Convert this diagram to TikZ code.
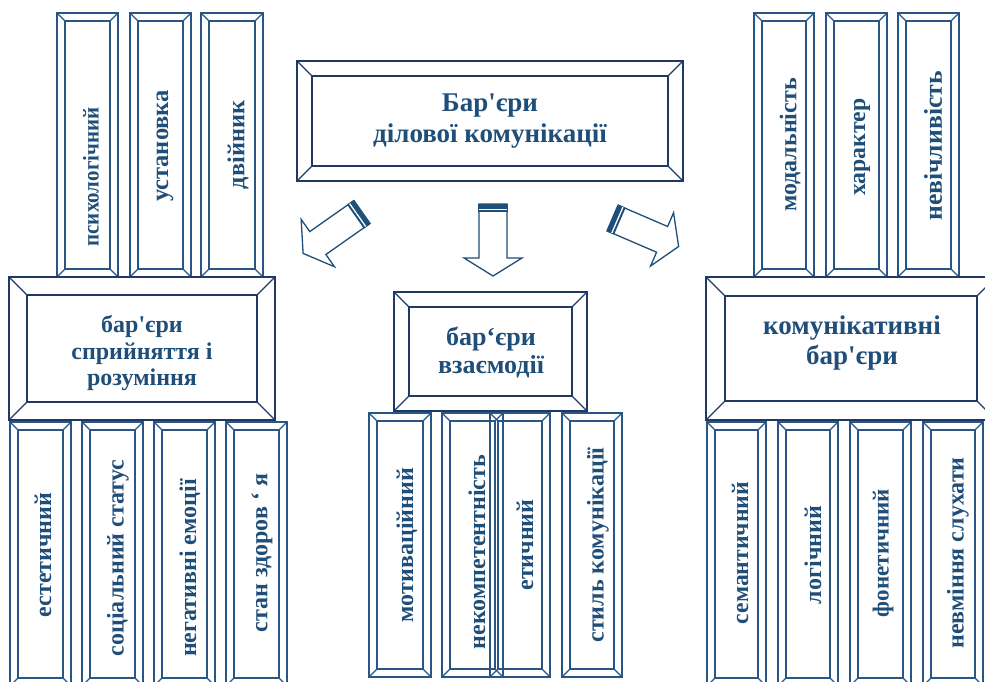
\documentclass[tikz,border=0pt]{standalone}
\usepackage{fontspec}
\setmainfont{Liberation Serif}
\newfontfamily\lserif{Liberation Serif}
\usetikzlibrary{calc}

\definecolor{framec}{HTML}{203864}
\definecolor{colc}{HTML}{2A5686}
\definecolor{txtc}{HTML}{1F4E79}
\definecolor{arrc}{HTML}{1F4E79}

\tikzset{
  % rectangle with a bevelled (picture-frame) border: depth, colour, line width
  bevel/.style n args={3}{draw=#2, line width=#3, inner sep=0pt, outer sep=0pt,
    path picture={
      \coordinate (bvA) at (path picture bounding box.south west);
      \coordinate (bvB) at (path picture bounding box.north east);
      \coordinate (bvC) at (path picture bounding box.north west);
      \coordinate (bvD) at (path picture bounding box.south east);
      \draw[#2, line width=#3] ($(bvA)+(#1,#1)$) rectangle ($(bvB)+(-#1,-#1)$);
      \draw[#2, line width=1.2pt] (bvA) -- ++(#1,#1) (bvB) -- ++(-#1,-#1)
                                  (bvC) -- ++(#1,-#1) (bvD) -- ++(-#1,#1);
    }},
  vlabel/.style={text=txtc, font=\lserif\bfseries\fontsize{#1}{#1}\selectfont,
    rotate=90, inner sep=0pt},
  vlabel/.default=24,
  blabel/.style={text=txtc, align=center, inner sep=0pt},
  blockarrow/.style={draw=arrc, line width=1.3pt, fill=white, line join=miter},
}

% #1 name, #2 x1, #3 x2, #4 y1, #5 y2, #6 bevel depth, #7 colour, #8 line width
\newcommand\bframe[8]{%
  \node[bevel={#6}{#7}{#8}, minimum width={(#3-#2)*1pt}, minimum height={(#5-#4)*1pt}]
    (#1) at ({(#2+#3)/2},{(#4+#5)/2}) {};}

% block arrow pointing along the local x axis, tail striped
\newcommand\stripedarrow[3]{% #1 tail x, #2 tail y, #3 angle
  \begin{scope}[shift={(#1,#2)}, rotate=#3]
    \draw[blockarrow] (0,-14) -- (54,-14) -- (54,-29) -- (72,0) -- (54,29)
      -- (54,14) -- (0,14) -- cycle;
    \fill[arrc] (0,-14.6) rectangle (8,14.6);
    \draw[white, line width=1.3pt] (5.3,-14) -- (5.3,14);
  \end{scope}}

\begin{document}
\begin{tikzpicture}[x=1pt,y=-1pt]
\useasboundingbox (0,0) rectangle (985,682);
\clip (0,0) rectangle (985,682);

% main heading
\bframe{top}{297}{683}{61}{181}{15pt}{framec}{1.8pt}
\node[blabel, font=\lserif\bfseries\fontsize{27}{31}\selectfont] (ttop) at (490,121)
  {Бар'єри\\ділової комунікації};

% three block arrows
\stripedarrow{362}{212}{215.1}
\stripedarrow{493}{204}{-90}
\stripedarrow{612.5}{218}{-23.3}

% left group
\bframe{ul1}{57}{118}{13}{277}{8pt}{colc}{1.4pt}
\bframe{ul2}{130}{191}{13}{277}{8pt}{colc}{1.4pt}
\bframe{ul3}{201}{263}{13}{277}{8pt}{colc}{1.4pt}
\node[vlabel=22.5] (tul1) at (91,177) {\scalebox{0.93}[1]{психологічний}};
\node[vlabel=24.5] (tul2) at (165,146) {установка};
\node[vlabel=24.3] (tul3) at (238,145) {двійник};

\bframe{left}{9}{275}{277}{420}{18pt}{framec}{1.8pt}
\node[blabel, font=\lserif\bfseries\fontsize{24}{26.5}\selectfont] (tleft) at (142,353)
  {бар'єри\\сприйняття і\\розуміння};

\bframe{ll1}{10}{71}{422}{686}{8pt}{colc}{1.4pt}
\bframe{ll2}{82}{143}{422}{686}{8pt}{colc}{1.4pt}
\bframe{ll3}{154}{215}{422}{686}{8pt}{colc}{1.4pt}
\bframe{ll4}{226}{287}{422}{686}{8pt}{colc}{1.4pt}
\node[vlabel] (tll1) at (43,555) {естетичний};
\node[vlabel] (tll2) at (118,558) {соціальний статус};
\node[vlabel] (tll3) at (190,568) {негативні емоції};
\node[vlabel] (tll4) at (262,553) {стан здоров ‘ я};

% middle group
\bframe{mid}{394}{587}{292}{411}{15pt}{framec}{1.8pt}
\node[blabel, font=\lserif\bfseries\fontsize{26}{28}\selectfont] (tmid) at (491,352)
  {бар‘єри\\взаємодії};

\bframe{ml1}{369}{431}{413}{677}{8pt}{colc}{1.4pt}
\bframe{ml2}{442}{503}{413}{677}{8pt}{colc}{1.4pt}
\bframe{ml3}{490}{550}{413}{677}{8pt}{colc}{1.4pt}
\bframe{ml4}{562}{622}{413}{677}{8pt}{colc}{1.4pt}
\node[vlabel] (tml1) at (407,545) {мотиваційний};
\node[vlabel] (tml2) at (477,552) {некомпетентність};
\node[vlabel] (tml3) at (525,545) {етичний};
\node[vlabel] (tml4) at (598,545) {стиль комунікації};

% right group
\bframe{ur1}{754}{814}{13}{277}{8pt}{colc}{1.4pt}
\bframe{ur2}{826}{887}{13}{277}{8pt}{colc}{1.4pt}
\bframe{ur3}{898}{959}{13}{277}{8pt}{colc}{1.4pt}
\node[vlabel] (tur1) at (790,145) {модальність};
\node[vlabel=23.7] (tur2) at (862,147) {характер};
\node[vlabel=25.7] (tur3) at (933,146) {невічливість};

\bframe{right}{706}{996}{277}{420}{19pt}{framec}{1.8pt}
\node[blabel, font=\lserif\bfseries\fontsize{27}{30}\selectfont] (tright) at (852,343)
  {комунікативні\\бар'єри};

\bframe{lr1}{707}{766}{422}{686}{8pt}{colc}{1.4pt}
\bframe{lr2}{778}{838}{422}{686}{8pt}{colc}{1.4pt}
\bframe{lr3}{850}{911}{422}{686}{8pt}{colc}{1.4pt}
\bframe{lr4}{923}{983}{422}{686}{8pt}{colc}{1.4pt}
\node[vlabel=23.7] (tlr1) at (740,553) {семантичний};
\node[vlabel] (tlr2) at (813,555) {логічний};
\node[vlabel=23] (tlr3) at (883,553) {фонетичний};
\node[vlabel] (tlr4) at (958,553) {невміння слухати};
\end{tikzpicture}
\end{document}
